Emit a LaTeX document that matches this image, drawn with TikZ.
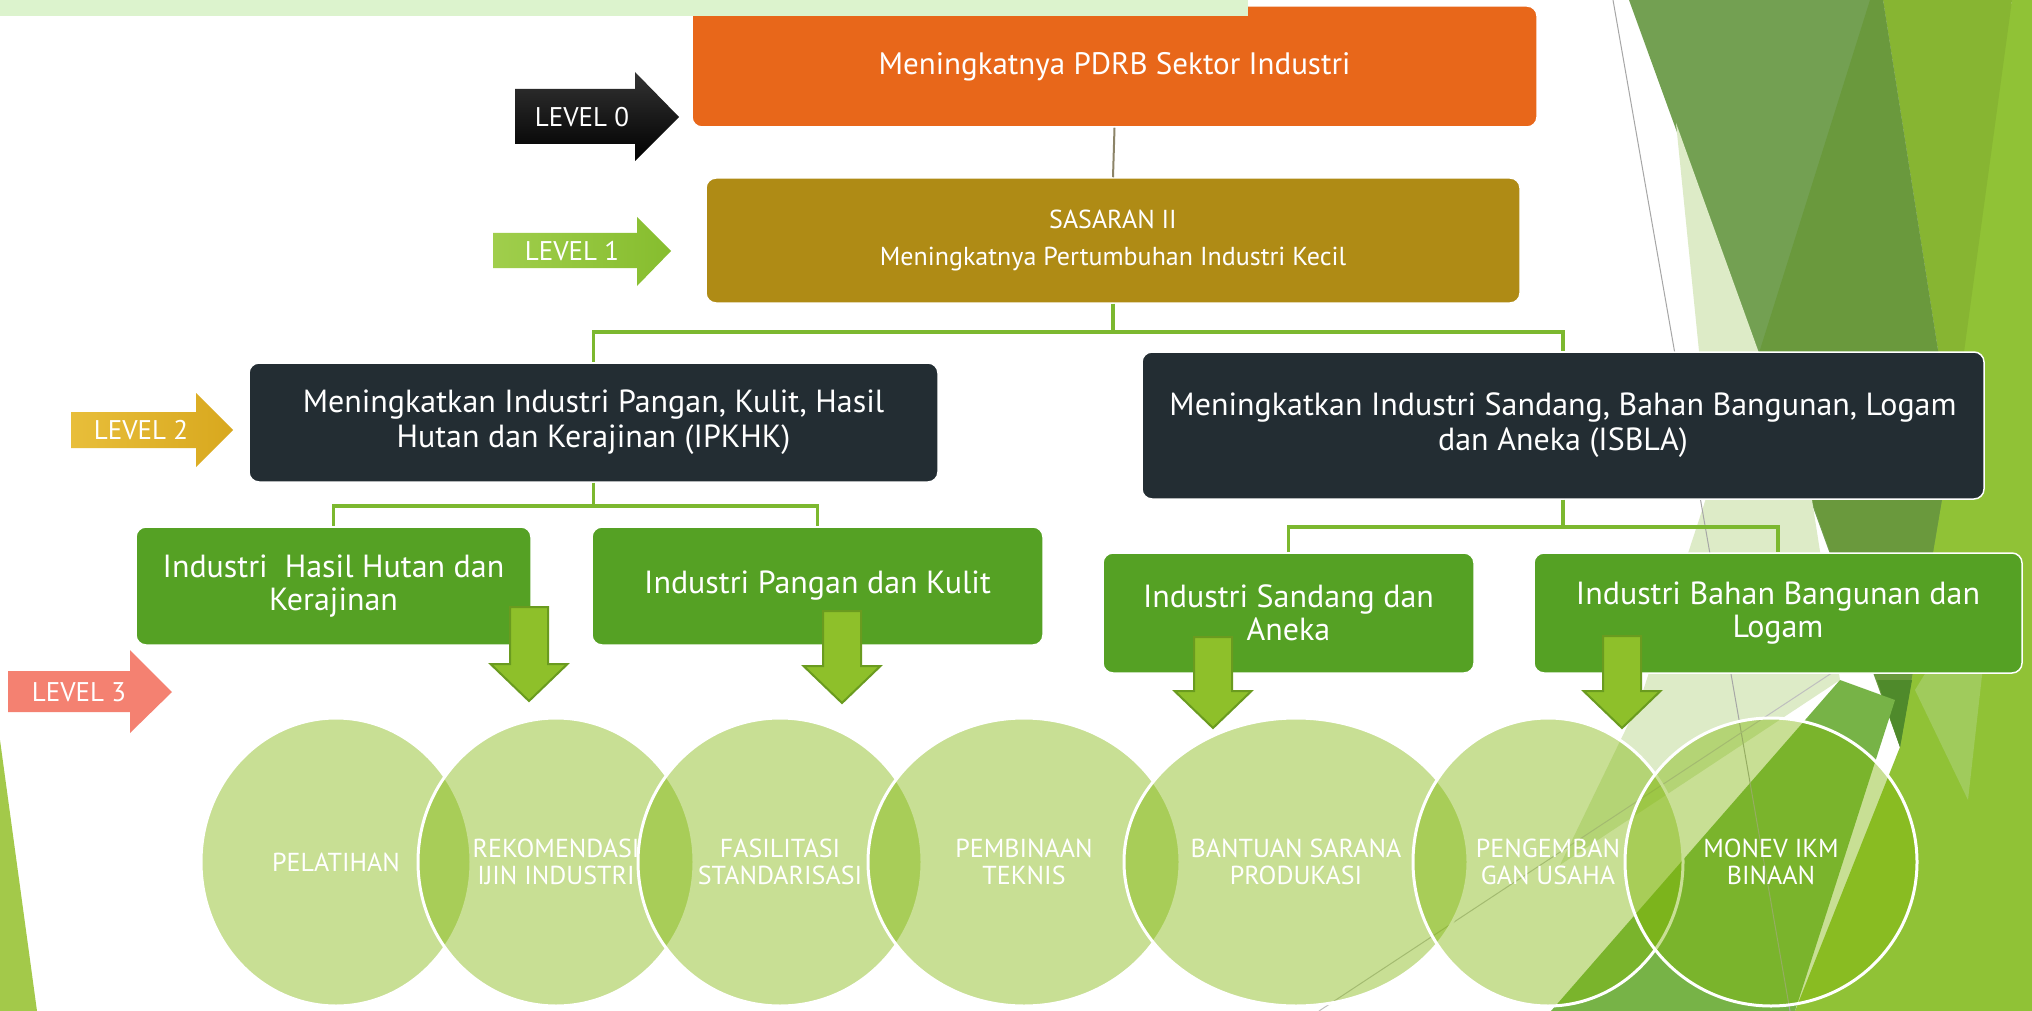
\documentclass[tikz,border=0pt]{standalone}
\usepackage{fontspec}
\setmainfont{PT Sans}
\usetikzlibrary{shapes.geometric}
\definecolor{cOrange}{HTML}{E8671A}
\definecolor{cOlive}{HTML}{AF8B15}
\definecolor{cDark}{HTML}{232D33}
\definecolor{cGreen}{HTML}{55A124}
\definecolor{cConn}{HTML}{7CB82F}
\definecolor{cConnTop}{HTML}{8C8468}
\definecolor{cArrow}{HTML}{8EC02A}
\definecolor{cArrowEdge}{HTML}{6A9B1F}
\definecolor{cEll}{RGB}{128,182,9}
\definecolor{cBar}{HTML}{DCF3CD}
\definecolor{bgBright}{HTML}{90C236}
\definecolor{bgYel}{HTML}{87B532}
\definecolor{bgMuted}{HTML}{73A052}
\definecolor{bgDark}{HTML}{6A993D}
\definecolor{bgTip}{HTML}{4F8A2B}
\definecolor{bgPale}{HTML}{DDEBC7}
\definecolor{bgMed}{HTML}{77B347}
\definecolor{bgLight}{HTML}{A0CB5C}
\definecolor{bgLeft}{HTML}{A3C94A}
\definecolor{cSalmon}{HTML}{F48171}
\definecolor{lvOneA}{HTML}{A0CE4C}
\definecolor{lvOneB}{HTML}{86BD2E}
\definecolor{lvTwoA}{HTML}{E8BE3A}
\definecolor{lvTwoB}{HTML}{D8A81E}
\newcommand\dnarrowat[3]{%
  \filldraw[dnarrow] (#1-19,#2) -- (#1+19,#2) -- (#1+19,#3-37) -- (#1+38.5,#3-37)
    -- (#1,#3) -- (#1-38.5,#3-37) -- (#1-19,#3-37) -- cycle;}
\begin{document}
\begin{tikzpicture}[x=1pt,y=-1pt,
  box/.style={rectangle, rounded corners=10pt, draw=white, line width=1.5pt,
    text=white, align=center, inner sep=0pt, font=\fontsize{32}{33}\selectfont},
  conn/.style={draw=cConn, line width=3.5pt},
  dnarrow/.style={fill=cArrow, draw=cArrowEdge, line width=2pt, line join=miter},
  lvtext/.style={text=white, font=\fontsize{27}{28}\selectfont, inner sep=0pt},
  ell/.style={ellipse, fill=cEll, fill opacity=0.43, draw=white, line width=3pt,
    inner sep=0pt, minimum height=288pt},
  etext/.style={text=white, align=center, inner sep=0pt, font=\fontsize{26}{27}\selectfont}]
\useasboundingbox (0,0) rectangle (2032,1011);
\fill[white] (0,0) rectangle (2032,1011);
% background facets
\fill[bgBright] (2012,0) -- (2032,0) -- (2032,1011) -- (1795,1011) -- (1900,747) -- (1940,380) -- cycle;
\fill[bgLight] (1915,690) -- (1995,560) -- (1968,800) -- cycle;
\fill[bgYel] (1883,0) -- (2012,0) -- (1952,440) -- cycle;
\fill[bgMuted] (1629,0) -- (1883,0) -- (1952,440) -- (1900,747) -- cycle;
\fill[bgDark] (1870,0) -- (1883,0) -- (1952,440) -- (1900,747) -- (1759,353) -- cycle;
\fill[bgTip] (1877,680) -- (1912,680) -- (1900,747) -- cycle;
\fill[bgPale] (1676,123) -- (1812,500) -- (1840,680) -- (1560,865) -- (1640,700) -- (1712,480) -- cycle;
\fill[bgMed] (1551,1011) -- (1840,680) -- (1895,700) -- (1795,1011) -- cycle;
\fill[bgLeft] (0,740) -- (0,1011) -- (37,1011) -- cycle;
\draw[black!35, line width=1pt] (1613,0) -- (1790,1011);
\draw[black!25, line width=1pt] (1319,1011) -- (1900,628);
% level arrows
\shade[top color=black!80, bottom color=black] (515,89) -- (635,89) -- (635,72) -- (679,117) -- (635,161) -- (635,144) -- (515,144) -- cycle;
\node[lvtext] (lv0) at (582,117) {LEVEL 0};
\shade[left color=lvOneA, right color=lvOneB] (493,233) -- (637,233) -- (637,217) -- (671,251) -- (637,286) -- (637,268) -- (493,268) -- cycle;
\node[lvtext] (lv1) at (572,251) {LEVEL 1};
\shade[left color=lvTwoA, right color=lvTwoB] (71,412) -- (196,412) -- (196,393) -- (233,430) -- (196,467) -- (196,448) -- (71,448) -- cycle;
\node[lvtext] (lv2) at (141,430) {LEVEL 2};
\fill[cSalmon] (8,671) -- (130,671) -- (130,650) -- (172,692) -- (130,733) -- (130,712) -- (8,712) -- cycle;
\node[lvtext] (lv3) at (79,692) {LEVEL 3};
% boxes
\node[box, fill=cOrange, minimum width=845pt, minimum height=121pt, font=\fontsize{31}{34}\selectfont] (top) at (1114.5,66.5) {Meningkatnya PDRB Sektor Industri};
\node[box, fill=cOlive, minimum width=814pt, minimum height=125pt, font=\fontsize{26}{37}\selectfont] (sas) at (1113,240.5) {SASARAN II\\Meningkatnya Pertumbuhan Industri Kecil};
\node[box, fill=cDark, minimum width=689pt, minimum height=119pt, font=\fontsize{32}{35}\selectfont] (ipkhk) at (593.5,422.5) {Meningkatkan Industri Pangan, Kulit, Hasil\\Hutan dan Kerajinan (IPKHK)};
\node[box, fill=cDark, minimum width=842pt, minimum height=147pt, font=\fontsize{32}{35}\selectfont] (isbla) at (1563,425.5) {Meningkatkan Industri Sandang, Bahan Bangunan, Logam\\dan Aneka (ISBLA)};
\node[box, fill=cGreen, minimum width=395pt, minimum height=118pt] (hutan) at (333.5,586) {Industri\ \ Hasil Hutan dan\\Kerajinan};
\node[box, fill=cGreen, minimum width=451pt, minimum height=118pt] (pangan) at (817.5,586) {Industri Pangan dan Kulit};
\node[box, fill=cGreen, minimum width=371pt, minimum height=120pt] (sandang) at (1288.5,613) {Industri Sandang dan\\Aneka};
\node[box, fill=cGreen, minimum width=488pt, minimum height=120pt] (bahan) at (1778,613) {Industri Bahan Bangunan dan\\Logam};
% top bar
\fill[cBar] (0,0) rectangle (1248,16);
% connectors
\draw[draw=cConnTop, line width=2pt] (top.south) -- (sas.north);
\draw[conn] (sas.south) -- ++(0,28) -| (ipkhk.north);
\draw[conn] (sas.south) -- ++(0,28) -| (isbla.north);
\draw[conn] (ipkhk.south) -- ++(0,23) -| (hutan.north);
\draw[conn] (ipkhk.south) -- ++(0,23) -| (pangan.north);
\draw[conn] (isbla.south) -- ++(0,27) -| (sandang.north);
\draw[conn] (isbla.south) -- ++(0,27) -| (bahan.north);
% ellipses
\node[ell, minimum width=270pt] (e1) at (336,862) {};
\node[ell, minimum width=276pt] (e2) at (556,862) {};
\node[ell, minimum width=284pt] (e3) at (780,862) {};
\node[ell, minimum width=312pt] (e4) at (1024,862) {};
\node[ell, minimum width=344pt] (e5) at (1296,862) {};
\node[ell, minimum width=270pt] (e6) at (1548,862) {};
\node[ell, minimum width=292pt] (e7) at (1771,862) {};
\node[etext] (t1) at (e1) {PELATIHAN};
\node[etext] (t2) at (e2) {REKOMENDASI\\IJIN INDUSTRI};
\node[etext] (t3) at (e3) {FASILITASI\\STANDARISASI};
\node[etext] (t4) at (e4) {PEMBINAAN\\TEKNIS};
\node[etext] (t5) at (e5) {BANTUAN SARANA\\PRODUKASI};
\node[etext] (t6) at (e6) {PENGEMBAN\\GAN USAHA};
\node[etext] (t7) at (e7) {MONEV IKM\\BINAAN};
% down block arrows
\dnarrowat{529}{607}{701}
\dnarrowat{842}{611}{703}
\dnarrowat{1213}{637}{728}
\dnarrowat{1622}{636}{728}
\end{tikzpicture}
\end{document}
